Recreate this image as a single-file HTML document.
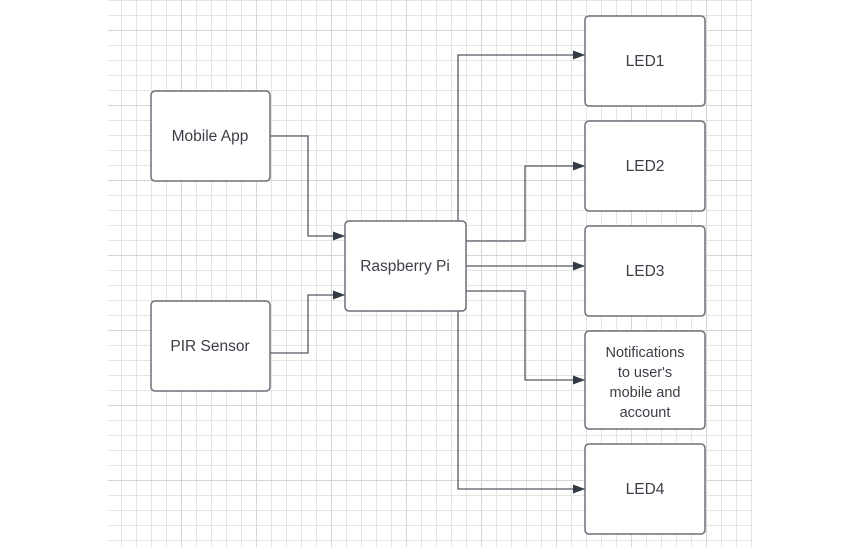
<!DOCTYPE html>
<html><head><style>html,body{margin:0;padding:0;background:#fff;width:862px;height:547px;overflow:hidden}</style></head>
<body>
<svg width="862" height="547" xmlns="http://www.w3.org/2000/svg" font-family="Liberation Sans, sans-serif">
<defs>
<pattern id="g" x="106" y="0" width="15" height="15" patternUnits="userSpaceOnUse">
<path d="M0 0V15M0 0H15" stroke="#e4e4e4" stroke-width="2" fill="none"/>
</pattern>
<pattern id="G" x="106" y="30" width="75" height="75" patternUnits="userSpaceOnUse">
<path d="M0 0V75M0 0H75" stroke="#d6d6d6" stroke-width="2" fill="none"/>
</pattern>
<marker id="a" markerWidth="12" markerHeight="9" refX="12" refY="4.5" orient="auto" markerUnits="userSpaceOnUse">
<path d="M0 0L12 4.5L0 9Z" fill="#333a45"/>
</marker>
</defs>
<rect x="108" y="0" width="644" height="547" fill="url(#g)"/>
<rect x="108" y="0" width="644" height="547" fill="url(#G)"/>
<g fill="none" stroke="#555b63" stroke-width="1.3">
<path d="M270 136H308V236H345" marker-end="url(#a)"/>
<path d="M270 353H308V295H345" marker-end="url(#a)"/>
<path d="M458 221V55H585" marker-end="url(#a)"/>
<path d="M466 241H525V166H585" marker-end="url(#a)"/>
<path d="M466 266H585" marker-end="url(#a)"/>
<path d="M466 291H525V380H585" marker-end="url(#a)"/>
<path d="M458 311V489H585" marker-end="url(#a)"/>
</g>
<g fill="#fff" stroke="#6b7078" stroke-width="1.5">
<rect x="151" y="91" width="119" height="90" rx="4"/>
<rect x="151" y="301" width="119" height="90" rx="4"/>
<rect x="345" y="221" width="121" height="90" rx="4"/>
<rect x="585" y="16" width="120" height="90" rx="4"/>
<rect x="585" y="121" width="120" height="90" rx="4"/>
<rect x="585" y="226" width="120" height="90" rx="4"/>
<rect x="585" y="331" width="120" height="98" rx="4"/>
<rect x="585" y="444" width="120" height="90" rx="4"/>
</g>
<g fill="#3a3f47" font-size="15.5" text-anchor="middle">
<text x="210" y="141">Mobile App</text>
<text x="210" y="351">PIR Sensor</text>
<text x="405" y="271">Raspberry Pi</text>
<text x="645" y="66">LED1</text>
<text x="645" y="171">LED2</text>
<text x="645" y="276">LED3</text>
<text x="645" y="494">LED4</text>
<text x="645" y="357" font-size="14.5">Notifications</text>
<text x="645" y="377" font-size="14.5">to user's</text>
<text x="645" y="397" font-size="14.5">mobile and</text>
<text x="645" y="417" font-size="14.5">account</text>
</g>
</svg>
</body></html>
